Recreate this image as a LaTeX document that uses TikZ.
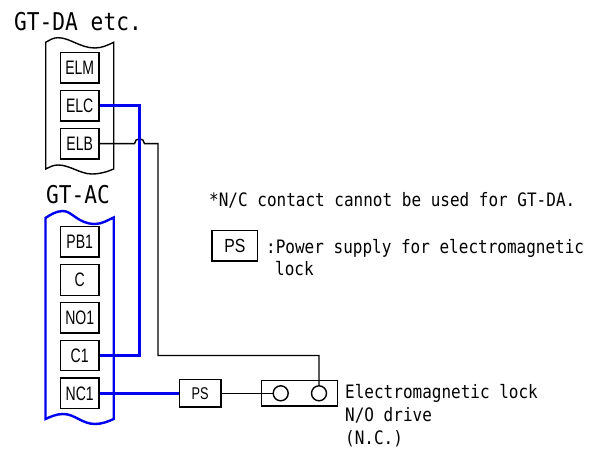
\documentclass[tikz,border=0pt]{standalone}
\usepackage{fontspec}
\setmainfont{Liberation Sans}
\newfontfamily\gothfont[FakeStretch=0.865]{DejaVu Sans Mono}
\definecolor{wireblue}{RGB}{0,0,240}
\tikzset{
	termbox/.style={draw, line width=1.4pt, minimum width=38.5pt, minimum height=30.5pt, inner sep=0pt, font=\fontsize{19.5}{19.5}\selectfont\addfontfeature{FakeStretch=0.72}},
	psbox/.style={draw, line width=1.4pt, inner sep=0pt},
	wire/.style={line width=1.4pt},
	bluewire/.style={line width=2.4pt, color=wireblue},
	note/.style={anchor=base west, inner sep=0pt, font=\gothfont\fontsize{18.5}{18.5}\selectfont},
	title/.style={anchor=base west, inner sep=0pt, font=\gothfont\fontsize{24.5}{24.5}\selectfont},
}
\begin{document}
\begin{tikzpicture}[x=1pt, y=-1pt]
	\useasboundingbox (0,0) rectangle (603,449);

	\node [title] (titleDA) at (14,31) {GT-DA etc.};
	\node [title] (titleAC) at (46,204) {GT-AC};

	% upper unit
	\draw [wire] (45.7,42.3) .. controls (50,40) and (53,37.7) .. (58,37.7)
		.. controls (70,37.7) and (80,48) .. (95,48) .. controls (102,48) and (108,45) .. (113.7,42.3)
		-- (113.7,169) .. controls (108,171.5) and (100,174) .. (92,174)
		.. controls (80,174) and (70,165) .. (58,165) .. controls (53,165) and (50,167) .. (45.7,169) -- cycle;
	% lower unit
	\draw [bluewire] (45.5,218) .. controls (50,215) and (56,211) .. (63,211)
		.. controls (72,211) and (78,224) .. (95,224) .. controls (102,224) and (108,220) .. (113.7,217.5)
		-- (113.7,419) .. controls (108,421.5) and (102,424) .. (95,424)
		.. controls (82,424) and (75,414) .. (63,414) .. controls (56,414) and (50,417) .. (45.5,419) -- cycle;

	\node [termbox] (ELM) at (79.7,67.7) {ELM};
	\node [termbox] (ELC) at (79.7,105.7) {ELC};
	\node [termbox] (ELB) at (79.7,143.7) {ELB};
	\node [termbox] (PB1) at (79.7,241.8) {PB1};
	\node [termbox] (C) at (79.7,280) {C};
	\node [termbox] (NO1) at (79.7,317.8) {NO1};
	\node [termbox] (C1) at (79.7,355.5) {C1};
	\node [termbox] (NC1) at (79.7,393.3) {NC1};

	\node [psbox, minimum width=41.7pt, minimum height=27.3pt, font=\fontsize{17}{17}\selectfont\addfontfeature{FakeStretch=0.75}] (PS) at (200.2,393.3) {PS};
	\node [psbox, minimum width=76pt, minimum height=25.3pt] (lock) at (299.7,393.3) {};
	\node [psbox, circle, minimum size=15pt] (circL) at (280.7,393.3) {};
	\node [psbox, circle, minimum size=15pt] (circR) at (319,393.3) {};

	\coordinate (A1) at (139.5,105.7);
	\coordinate (A2) at (139.5,355.5);
	\coordinate (B1) at (134.5,143.7);
	\coordinate (B2) at (158,143.7);
	\coordinate (B3) at (158,355.5);
	\coordinate (B4) at (319,355.5);

	\draw [wire] (ELB.east) -- (B1) arc[start angle=180, end angle=0, x radius=5, y radius=-5] -- (B2) -- (B3) -- (B4) -- (circR.north);
	\draw [wire] (PS.east) -- (circL.west);
	\draw [bluewire] (ELC.east) -- (A1) -- (A2) -- (C1.east);
	\draw [bluewire] (NC1.east) -- (PS.west);

	\node [note] (noteNC) at (209,206.7) {*N/C contact cannot be used for GT-DA.};
	\node [psbox, minimum width=45.7pt, minimum height=30.3pt, font=\fontsize{19}{19}\selectfont\addfontfeature{FakeStretch=0.83}] (legendPS) at (234.9,245.9) {PS};
	\node [note] (notePS) at (266,254) {:Power supply for electromagnetic};
	\node [note] (notePSb) at (275,276) {lock};
	\node [note] (lockA) at (345,398) {Electromagnetic lock};
	\node [note] (lockB) at (345,421) {N/O drive};
	\node [note] (lockC) at (345,444) {(N.C.)};
\end{tikzpicture}
\end{document}
